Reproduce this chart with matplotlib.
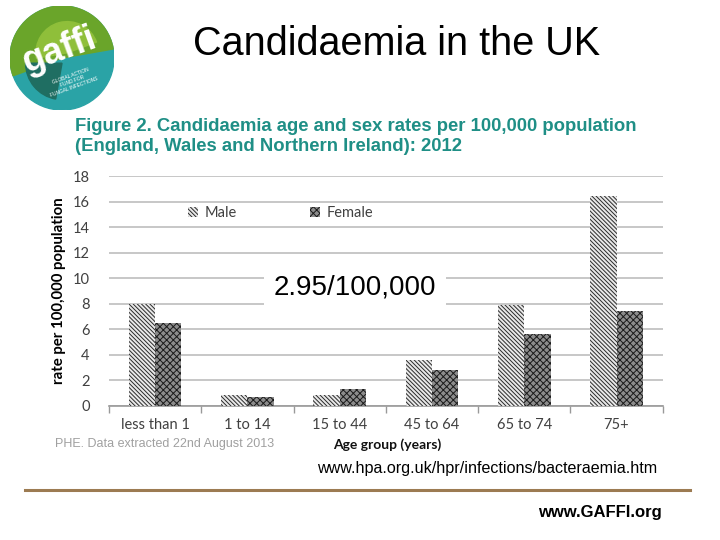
import matplotlib
matplotlib.use("Agg")
import matplotlib.pyplot as plt
from matplotlib.patches import Circle, Rectangle, Wedge
import numpy as np

categories = ["less than 1", "1 to 14", "15 to 44", "45 to 64", "65 to 74", "75+"]
male = [8.0, 0.85, 0.85, 3.6, 7.9, 16.4]
female = [6.5, 0.65, 1.3, 2.8, 5.6, 7.4]
yticks = [0, 2, 4, 6, 8, 10, 12, 14, 16, 18]

W, H = 720, 540
fig = plt.figure(figsize=(7.2, 5.4), dpi=100)
fig.patch.set_facecolor("white")

def fx(px):
    return px / W

def fy(py):
    return 1 - py / H

plt.rcParams["hatch.linewidth"] = 0.7

ax = fig.add_axes([fx(109), fy(405.7), fx(662.7) - fx(109), (405.7 - 176) / H])
x = np.arange(len(categories))
bw = 0.285
bm = ax.bar(x - bw / 2, male, bw, color="#e8e8e8", edgecolor="#2a2a2a",
            hatch="\\\\\\\\\\\\\\\\", linewidth=0, label="Male", zorder=3)
bf = ax.bar(x + bw / 2, female, bw, color="#8c8c8c", edgecolor="#1a1a1a",
            hatch="xxxxx", linewidth=0, label="Female", zorder=3)

ax.set_xlim(-0.5, len(categories) - 0.5)
ax.set_ylim(0, 18)
ax.set_yticks(yticks)
ax.yaxis.grid(True, color="#bdbdbd", linewidth=1.2, zorder=0)
ax.set_axisbelow(True)
for s in ["top", "right", "left"]:
    ax.spines[s].set_visible(False)
ax.spines["bottom"].set_color("#999999")
ax.spines["bottom"].set_linewidth(1.2)
ax.set_xticks(np.arange(len(categories) + 1) - 0.5, minor=False)
ax.set_xticklabels([])
ax.tick_params(axis="x", length=5, color="#999999", width=1)
ax.set_xticks(x, minor=True)
ax.set_xticklabels(categories, minor=True, fontsize=10.5, color="#404040", family="Lato")
ax.tick_params(axis="x", which="minor", length=0, pad=9)
ax.tick_params(axis="y", length=0, pad=14, labelsize=10.5, labelcolor="#404040")
for t in ax.get_yticklabels():
    t.set_family("Lato")

ax.set_ylabel("rate per 100,000 population", fontsize=10.8, fontweight="bold",
              family="Lato", labelpad=5)

leg = ax.legend(ncol=2, frameon=False, loc="center left",
                bbox_to_anchor=((175 - 109) / (662.7 - 109), (405.7 - 213) / (405.7 - 176)),
                handlelength=0.65, handleheight=0.65, handletextpad=0.5,
                columnspacing=5.0, prop={"family": "Lato", "size": 10.5})
for t in leg.get_texts():
    t.set_color("#404040")

# white box with overall rate
fig.patches.append(Rectangle((fx(264), fy(310)), fx(446) - fx(264), (310 - 266) / H,
                             transform=fig.transFigure, facecolor="white",
                             edgecolor="none", zorder=5))
fig.text(fx(355), fy(287), "2.95/100,000", ha="center", va="center",
         fontsize=20, family="Liberation Sans", zorder=6)

# Titles
fig.text(fx(397), fy(44), "Candidaemia in the UK", ha="center", va="center",
         fontsize=28.5, family="Liberation Sans")
fig.text(fx(75), fy(126), "Figure 2. Candidaemia age and sex rates per 100,000 population",
         ha="left", va="center", fontsize=13.3, fontweight="bold",
         family="Liberation Sans", color="#1f8f86")
fig.text(fx(75), fy(147), "(England, Wales and Northern Ireland): 2012",
         ha="left", va="center", fontsize=13.3, fontweight="bold",
         family="Liberation Sans", color="#1f8f86")

# footer texts
fig.text(fx(55), fy(444), "PHE. Data extracted 22nd August 2013", ha="left", va="center",
         fontsize=9, family="Liberation Sans", color="#a0a0a0")
fig.text(fx(387), fy(445), "Age group (years)", ha="center", va="center",
         fontsize=10, fontweight="bold", family="Lato", color="#111111")
fig.text(fx(657), fy(468), "www.hpa.org.uk/hpr/infections/bacteraemia.htm", ha="right",
         va="center", fontsize=11.6, family="Liberation Sans")
fig.add_artist(plt.Line2D([fx(25), fx(690)], [fy(490), fy(490)], color="#9c7b52",
                          linewidth=2.2, transform=fig.transFigure))
fig.text(fx(662), fy(513), "www.GAFFI.org", ha="right", va="center",
         fontsize=12, fontweight="bold", family="Liberation Sans")

# logo
lax = fig.add_axes([fx(10), fy(110), fx(104), 104 / H])
lax.set_xlim(-1, 1)
lax.set_ylim(-1, 1)
lax.set_aspect("equal")
lax.axis("off")
lax.add_patch(Circle((0, 0), 1, color="#2aa3a6"))
lax.add_patch(Wedge((0, 0), 1, 10, 200, color="#6aa52a"))
lax.add_patch(Wedge((0.1, 0.1), 0.6, 20, 190, color="#8fbf3a"))
lax.add_patch(Wedge((0, -0.1), 0.7, 180, 260, color="#1f6e62"))
lax.text(-0.05, 0.15, "gaffi", rotation=20, fontsize=26, fontweight="bold",
         color="white", ha="center", va="center", family="Liberation Sans")
lax.text(0.2, -0.45, "GLOBAL ACTION\nFUND FOR\nFUNGAL INFECTIONS", rotation=20,
         fontsize=3.5, color="white", ha="center", va="center", family="Liberation Sans")

fig.savefig("out.png", dpi=100)
